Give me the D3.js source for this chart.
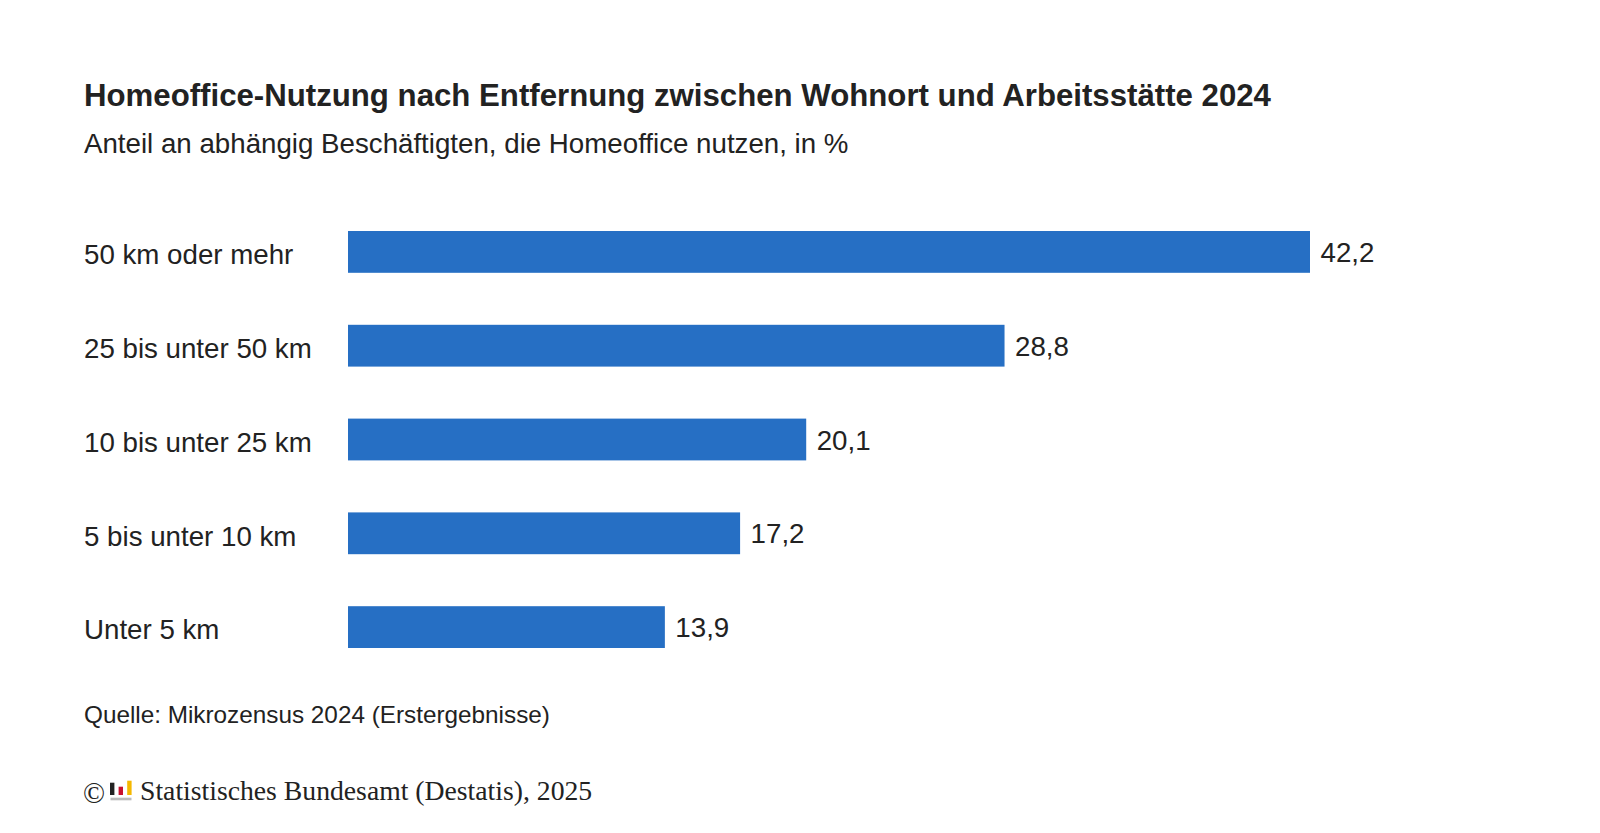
<!DOCTYPE html>
<html>
<head>
<meta charset="utf-8">
<script src="https://cdn.jsdelivr.net/npm/d3@7"></script>
<style>
  html,body{margin:0;padding:0;background:#fff;}
  svg{display:block;}
  text{font-family:"Liberation Sans",Arial,sans-serif;fill:#222;}
</style>
</head>
<body>
<svg id="mainSVG" width="1600" height="833"></svg>
<script>
var categories = ['50 km oder mehr','25 bis unter 50 km','10 bis unter 25 km','5 bis unter 10 km','Unter 5 km'];
var values = [42.2,28.8,20.1,17.2,13.9];
var valueLabels = ['42,2','28,8','20,1','17,2','13,9'];
var logoHeights = [12.3,8.3,14.3];
var logoColors = ['#222','#c8102e','#f5b800'];

var svg = d3.select('#mainSVG');
svg.append('rect').attr('width',1600).attr('height',833).attr('fill','#fff');

var x = d3.scaleLinear().domain([0,42.2]).range([348,1310]);
var y = d3.scaleBand().domain(categories).range([231,648]).paddingInner(52/93.8).paddingOuter(0);

// titles
svg.append('text').attr('x',84).attr('y',106).attr('font-size',31.2).attr('font-weight','bold')
  .text('Homeoffice-Nutzung nach Entfernung zwischen Wohnort und Arbeitsstätte 2024');
svg.append('text').attr('x',84).attr('y',153).attr('font-size',27.7)
  .text('Anteil an abhängig Beschäftigten, die Homeoffice nutzen, in %');

// category labels
var yAxis = svg.append('g').attr('transform','translate(84,3.4)')
  .call(d3.axisLeft(y).tickSize(0));
yAxis.select('.domain').remove();
yAxis.selectAll('text').attr('x',0).attr('text-anchor','start').attr('font-size',27.7)
  .style('font-family','"Liberation Sans",Arial,sans-serif').attr('fill','#222');

// bars
svg.selectAll('.bar').data(values).enter().append('rect')
  .attr('class','bar')
  .attr('x',x(0))
  .attr('y',function(d,i){return y(categories[i]);})
  .attr('width',function(d){return x(d)-x(0);})
  .attr('height',y.bandwidth())
  .attr('fill','#266fc4');

// value labels
svg.selectAll('.val').data(values).enter().append('text')
  .attr('class','val')
  .attr('x',function(d){return x(d)+10.5;})
  .attr('y',function(d,i){return y(categories[i])+y.bandwidth()/2+0.5;})
  .attr('dy','.35em')
  .attr('font-size',27.7)
  .text(function(d,i){return valueLabels[i];});

// source
svg.append('text').attr('x',84).attr('y',723).attr('font-size',24.3)
  .text('Quelle: Mikrozensus 2024 (Erstergebnisse)');

// copyright line with small logo
svg.append('text').attr('x',83).attr('y',803).attr('font-size',29)
  .style('font-family','"Liberation Serif",serif').text('©');
var logo = svg.append('g').attr('transform','translate(110,795)');
logo.selectAll('rect').data(logoHeights).enter().append('rect')
  .attr('x',function(d,i){return i*8.6;})
  .attr('y',function(d){return -d;})
  .attr('width',4.4)
  .attr('height',function(d){return d;})
  .attr('fill',function(d,i){return logoColors[i];});
logo.append('rect').attr('x',0.5).attr('y',2.7).attr('width',21).attr('height',2.6).attr('fill','#bbb');
svg.append('text').attr('x',140).attr('y',799.5).attr('font-size',27.7)
  .style('font-family','"Liberation Serif",serif')
  .text('Statistisches Bundesamt (Destatis), 2025');
</script>
</body>
</html>
